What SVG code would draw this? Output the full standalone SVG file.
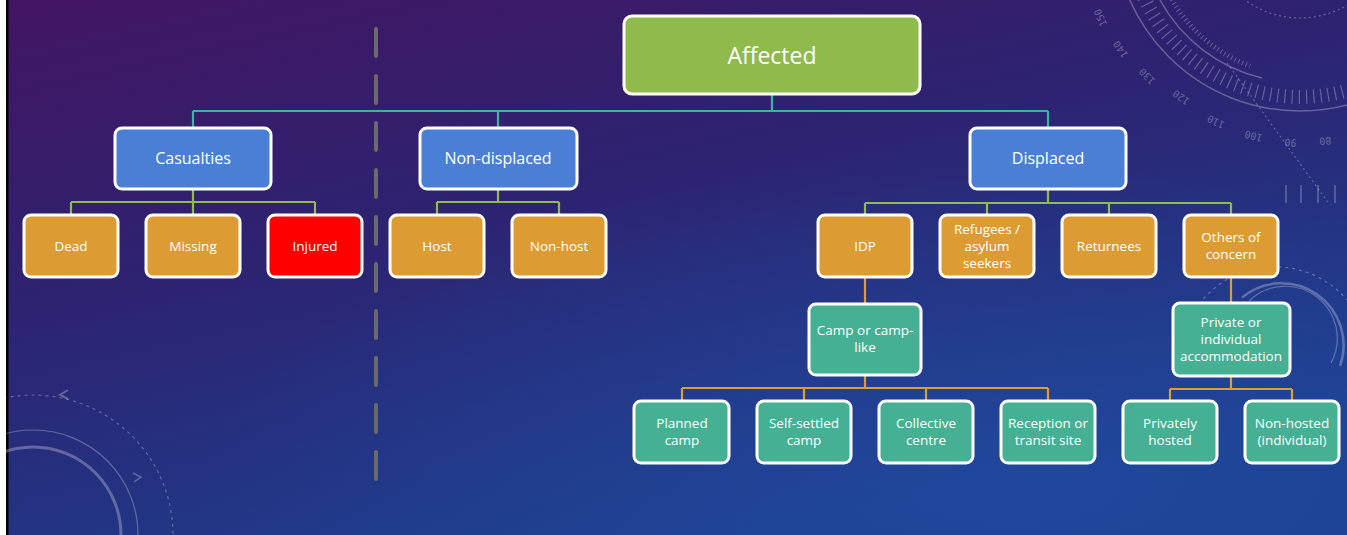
<svg xmlns="http://www.w3.org/2000/svg" width="1347" height="535" viewBox="0 0 1347 535">
<defs>
<linearGradient id="bg" x1="0" y1="0" x2="0.55" y2="1">
<stop offset="0" stop-color="#431563"/>
<stop offset="0.45" stop-color="#2d2371"/>
<stop offset="1" stop-color="#1d3f90"/>
</linearGradient>
<radialGradient id="glow" cx="0.75" cy="0.9" r="0.6">
<stop offset="0" stop-color="#2350a8" stop-opacity="0.5"/>
<stop offset="1" stop-color="#2350a8" stop-opacity="0"/>
</radialGradient>
<style>
.box{stroke:#ffffff;stroke-width:3}
.green{fill:#8fba4c}
.blue{fill:#4a7fd5}
.orange{fill:#dc9c33}
.red{fill:#ff0000}
.teal{fill:#45b093}
.t{font-family:"Open Sans","Liberation Sans",sans-serif;fill:#ffffff;text-anchor:middle;dominant-baseline:central}
.s13{font-size:13.5px}
.s15{font-size:16px}
.s23{font-size:23px}
.c1{stroke:#3cb4a0;stroke-width:2.2;fill:none}
.c2{stroke:#8fbb4f;stroke-width:2.2;fill:none}
.c3{stroke:#dd9d33;stroke-width:2.2;fill:none}
.deco{fill:none;stroke:#ffffff;stroke-opacity:0.28}
.num{font-family:"DejaVu Sans Mono","Liberation Mono",monospace;font-size:10px;fill:#ffffff;fill-opacity:0.3;text-anchor:middle;dominant-baseline:central}
</style>
</defs>
<g id="background">
<rect x="0" y="0" width="1347" height="535" fill="url(#bg)"/>
<rect x="0" y="0" width="1347" height="535" fill="url(#glow)"/>
<rect x="0" y="0" width="6" height="535" fill="#ffffff"/>
<rect x="6" y="0" width="2.5" height="535" fill="#000000"/>
<circle cx="1300" cy="-75" r="186" class="deco" stroke-width="1.5"/>
<path d="M1160,0 A158,158 0 0 0 1262,78" class="deco" stroke-width="1.5"/>
<path d="M1138.4,-16.2 A172,172 0 0 0 1344.5,91.1" class="deco" stroke-width="14" stroke-dasharray="1.2 6"/>
<path d="M1170,-4 A150,150 0 0 0 1250,66" class="deco" stroke-width="5" stroke-dasharray="1 3"/>
<circle cx="1300" cy="-75" r="93" class="deco" stroke-width="1.2" stroke-dasharray="2 3"/>
<line x1="1227" y1="63" x2="1330" y2="205" class="deco" stroke-width="1.2" stroke-dasharray="2 3"/>
<g class="deco" stroke-width="1.5">
<line x1="1286" y1="185" x2="1286" y2="203"/><line x1="1301" y1="185" x2="1301" y2="203"/><line x1="1318" y1="185" x2="1318" y2="203"/><line x1="1335" y1="185" x2="1335" y2="203"/>
</g>
<text class="num" transform="translate(1100.6,17.7) rotate(245)">150</text>
<text class="num" transform="translate(1120.6,49.3) rotate(235)">140</text>
<text class="num" transform="translate(1147.2,76.3) rotate(225)">130</text>
<text class="num" transform="translate(1181.1,97.4) rotate(215)">120</text>
<text class="num" transform="translate(1215.9,121.8) rotate(205)">110</text>
<text class="num" transform="translate(1253.5,136.1) rotate(195)">100</text>
<text class="num" transform="translate(1290.4,142.8) rotate(185)">90</text>
<text class="num" transform="translate(1325.4,141.0) rotate(175)">80</text>
<path d="M1242,297.5 A62,62 0 0 1 1340,366" class="deco" stroke-width="2.5"/>
<path d="M1249,301 A52,52 0 0 1 1331,363" class="deco" stroke-width="1.2"/>
<path d="M1195,310 A95,95 0 0 1 1347,300" class="deco" stroke-width="1.2" stroke-dasharray="3 4"/>
<circle cx="33" cy="535" r="88" class="deco" stroke-width="3"/>
<circle cx="33" cy="535" r="105" class="deco" stroke-width="1.2"/>
<circle cx="33" cy="535" r="140" class="deco" stroke-width="1.2" stroke-dasharray="3 4"/>
<path d="M68,390 L60,395 L68,399" class="deco" stroke-width="2"/>
<path d="M133,473 L141,477 L134,482" class="deco" stroke-width="1.5"/>
<line x1="376" y1="29" x2="376" y2="480" stroke="#6a6a6a" stroke-width="4" stroke-linecap="round" stroke-dasharray="27 20"/>
</g>
<g id="connectors">
<path class="c1" d="M772,94 V111 M193,111 H1048 M193,111 V128 M498,111 V128 M1048,111 V128"/>
<path class="c2" d="M193,189 V202 M71,202 H315 M71,202 V215 M193,202 V215 M315,202 V215"/>
<path class="c2" d="M498,189 V202 M437,202 H559 M437,202 V215 M559,202 V215"/>
<path class="c2" d="M1048,189 V203 M865,203 H1231 M865,203 V215 M987,203 V215 M1109,203 V215 M1231,203 V215"/>
<path class="c3" d="M865,277 V304 M865,375 V388 M682,388 H1048 M682,388 V401 M804,388 V401 M926,388 V401 M1048,388 V401"/>
<path class="c3" d="M1231,277 V303 M1231,376 V389 M1170,389 H1292 M1170,389 V401 M1292,389 V401"/>
</g>
<g id="n-affected"><rect class="box green" x="624" y="16" width="296" height="78" rx="8"/><text class="t s23" x="772" y="55">Affected</text></g>
<g id="n-casualties"><rect class="box blue" x="115" y="128" width="156" height="61" rx="7"/><text class="t s15" x="193" y="158">Casualties</text></g>
<g id="n-nondisplaced"><rect class="box blue" x="420" y="128" width="157" height="61" rx="7"/><text class="t s15" x="498" y="158">Non-displaced</text></g>
<g id="n-displaced"><rect class="box blue" x="970" y="128" width="156" height="61" rx="7"/><text class="t s15" x="1048" y="158">Displaced</text></g>
<g id="n-dead"><rect class="box orange" x="24" y="215" width="94" height="62" rx="7"/><text class="t s13" x="71" y="246">Dead</text></g>
<g id="n-missing"><rect class="box orange" x="146" y="215" width="94" height="62" rx="7"/><text class="t s13" x="193" y="246">Missing</text></g>
<g id="n-injured"><rect class="box red" x="268" y="215" width="94" height="62" rx="7"/><text class="t s13" x="315" y="246">Injured</text></g>
<g id="n-host"><rect class="box orange" x="390" y="215" width="94" height="62" rx="7"/><text class="t s13" x="437" y="246">Host</text></g>
<g id="n-nonhost"><rect class="box orange" x="512" y="215" width="94" height="62" rx="7"/><text class="t s13" x="559" y="246">Non-host</text></g>
<g id="n-idp"><rect class="box orange" x="818" y="215" width="94" height="62" rx="7"/><text class="t s13" x="865" y="246">IDP</text></g>
<g id="n-refugees"><rect class="box orange" x="940" y="215" width="94" height="62" rx="7"/><text class="t s13" x="987" y="229">Refugees /</text><text class="t s13" x="987" y="246">asylum</text><text class="t s13" x="987" y="263">seekers</text></g>
<g id="n-returnees"><rect class="box orange" x="1062" y="215" width="94" height="62" rx="7"/><text class="t s13" x="1109" y="246">Returnees</text></g>
<g id="n-others"><rect class="box orange" x="1184" y="215" width="94" height="62" rx="7"/><text class="t s13" x="1231" y="237">Others of</text><text class="t s13" x="1231" y="254">concern</text></g>
<g id="n-camp"><rect class="box teal" x="809" y="304" width="112" height="71" rx="7"/><text class="t s13" x="865" y="330">Camp or camp-</text><text class="t s13" x="865" y="347">like</text></g>
<g id="n-private"><rect class="box teal" x="1173" y="303" width="117" height="73" rx="7"/><text class="t s13" x="1231" y="322">Private or</text><text class="t s13" x="1231" y="339">individual</text><text class="t s13" x="1231" y="356">accommodation</text></g>
<g id="n-planned"><rect class="box teal" x="634" y="401" width="95" height="62" rx="7"/><text class="t s13" x="682" y="423">Planned</text><text class="t s13" x="682" y="440">camp</text></g>
<g id="n-selfsettled"><rect class="box teal" x="757" y="401" width="94" height="62" rx="7"/><text class="t s13" x="804" y="423">Self-settled</text><text class="t s13" x="804" y="440">camp</text></g>
<g id="n-collective"><rect class="box teal" x="879" y="401" width="94" height="62" rx="7"/><text class="t s13" x="926" y="423">Collective</text><text class="t s13" x="926" y="440">centre</text></g>
<g id="n-reception"><rect class="box teal" x="1001" y="401" width="94" height="62" rx="7"/><text class="t s13" x="1048" y="423">Reception or</text><text class="t s13" x="1048" y="440">transit site</text></g>
<g id="n-privately"><rect class="box teal" x="1123" y="401" width="94" height="62" rx="7"/><text class="t s13" x="1170" y="423">Privately</text><text class="t s13" x="1170" y="440">hosted</text></g>
<g id="n-nonhosted"><rect class="box teal" x="1245" y="401" width="94" height="62" rx="7"/><text class="t s13" x="1292" y="423">Non-hosted</text><text class="t s13" x="1292" y="440">(individual)</text></g>
</svg>
